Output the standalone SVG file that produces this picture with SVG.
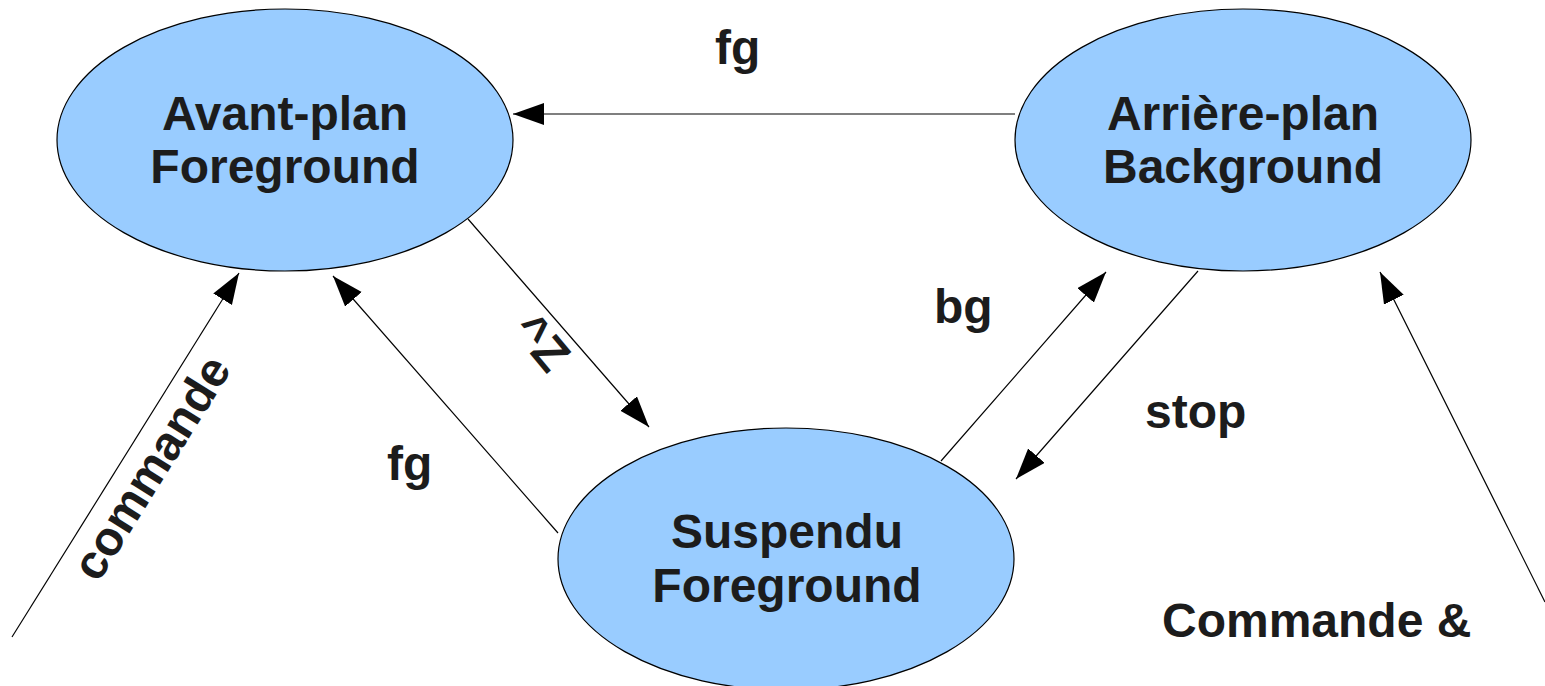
<svg xmlns="http://www.w3.org/2000/svg" width="1545" height="686" viewBox="0 0 1545 686">
<style>
.node{fill:#99ccff;stroke:#000;stroke-width:1.2}
.lbl{font-family:"Liberation Sans",Arial,sans-serif;font-weight:bold;font-size:48px;fill:#1c1c1c}
.c{text-anchor:middle}
.edge{stroke:#000;stroke-width:1.2;fill:none;marker-end:url(#ah)}
</style>
<defs>
<marker id="ah" markerUnits="userSpaceOnUse" markerWidth="32" markerHeight="24" refX="31" refY="11" orient="auto">
<path d="M0,0 L31,11 L0,22 z" fill="#000"/>
</marker>
</defs>
<rect width="1545" height="686" fill="#fff"/>
<g id="avant-plan">
<ellipse class="node" cx="285" cy="140" rx="228" ry="131"/>
<text class="lbl c" x="285" y="130">Avant-plan</text>
<text class="lbl c" x="285" y="183">Foreground</text>
</g>
<g id="arriere-plan">
<ellipse class="node" cx="1243" cy="140" rx="228" ry="131"/>
<text class="lbl c" x="1243" y="130">Arrière-plan</text>
<text class="lbl c" x="1243" y="183">Background</text>
</g>
<g id="suspendu">
<ellipse class="node" cx="786" cy="559" rx="228" ry="131"/>
<text class="lbl c" x="787" y="548">Suspendu</text>
<text class="lbl c" x="787" y="602">Foreground</text>
</g>
<g id="connectors">
<line class="edge" x1="1015" y1="114" x2="513" y2="114"/>
<line class="edge" x1="468" y1="219" x2="649" y2="427"/>
<line class="edge" x1="558" y1="533" x2="333" y2="276"/>
<line class="edge" x1="12" y1="637" x2="239" y2="273"/>
<line class="edge" x1="941" y1="461" x2="1106" y2="272"/>
<line class="edge" x1="1198" y1="271" x2="1016" y2="479"/>
<line class="edge" x1="1545" y1="602" x2="1380" y2="272"/>
<text class="lbl" x="715" y="64">fg</text>
<text class="lbl" x="387" y="480">fg</text>
<text class="lbl" x="934" y="323">bg</text>
<text class="lbl" x="1145" y="428">stop</text>
<text class="lbl" x="1162" y="637">Commande &amp;</text>
<text class="lbl c" transform="translate(155,470) rotate(-58)" x="0" y="12">commande</text>
<text class="lbl c" transform="translate(540,344) rotate(50)" x="0" y="14">^Z</text>
</g>
</svg>
